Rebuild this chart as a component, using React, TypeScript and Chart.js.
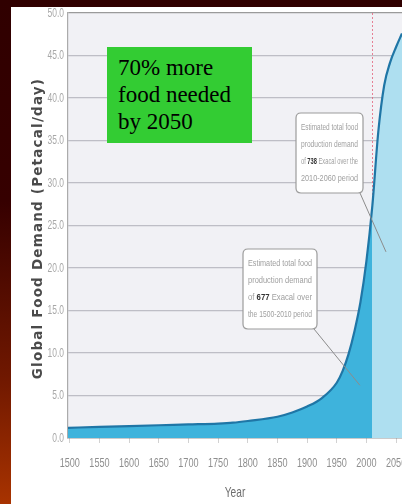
import { useEffect, useRef } from "react";
import { Chart, registerables } from "chart.js";

Chart.register(...registerables);

// Global food demand curve, Petacal/day
const years = [1497, 1550, 1600, 1650, 1700, 1750, 1775, 1800, 1850, 1875, 1900, 1925, 1950, 1960, 1970, 1980, 1990, 2000, 2010, 2020, 2030, 2040, 2050, 2060];
const demand = [1.2, 1.3, 1.4, 1.5, 1.6, 1.7, 1.8, 2.0, 2.5, 3.0, 3.7, 4.7, 6.5, 7.9, 9.9, 12.6, 16.0, 20.8, 27.3, 36.0, 41.5, 44.2, 46.0, 47.6];

const xTicks = [1500, 1550, 1600, 1650, 1700, 1750, 1800, 1850, 1900, 1950, 2000, 2050];
const yTicks = [0, 5, 10, 15, 20, 25, 30, 35, 40, 45, 50];
const splitYear = 2010;

const headline = ["70% more", "food needed", "by 2050"];
const yTitle = "Global Food Demand (Petacal/day)";
const xTitle = "Year";

type Seg = [string, boolean];
const futureNote: Seg[][] = [
  [["Estimated total food", false]],
  [["production demand", false]],
  [["of ", false], ["738", true], [" Exacal over the", false]],
  [["2010-2060 period", false]],
];
const pastNote: Seg[][] = [
  [["Estimated total food", false]],
  [["production demand", false]],
  [["of ", false], ["677", true], [" Exacal over", false]],
  [["the 1500-2010 period", false]],
];
// points (year, value) the note pointers lead to
const futureAnchor = [2033, 21.9];
const pastAnchor = [1989, 6.2];

const PAST_FILL = "#3eb3dc";
const FUTURE_FILL = "#aedff0";
const NARROW = '"Liberation Sans", Arial, sans-serif';

function roundRect(ctx: CanvasRenderingContext2D, x: number, y: number, w: number, h: number, r: number) {
  ctx.beginPath();
  ctx.moveTo(x + r, y);
  ctx.lineTo(x + w - r, y);
  ctx.quadraticCurveTo(x + w, y, x + w, y + r);
  ctx.lineTo(x + w, y + h - r);
  ctx.quadraticCurveTo(x + w, y + h, x + w - r, y + h);
  ctx.lineTo(x + r, y + h);
  ctx.quadraticCurveTo(x, y + h, x, y + h - r);
  ctx.lineTo(x, y + r);
  ctx.quadraticCurveTo(x, y, x + r, y);
  ctx.closePath();
}

// text squeezed horizontally, for the condensed axis lettering
function narrowText(
  ctx: CanvasRenderingContext2D,
  text: string,
  x: number,
  y: number,
  size: number,
  squeeze: number,
  align: CanvasTextAlign,
  color: string
) {
  ctx.save();
  ctx.translate(x, y);
  ctx.scale(squeeze, 1);
  ctx.font = `${size}px ${NARROW}`;
  ctx.textAlign = align;
  ctx.textBaseline = "middle";
  ctx.fillStyle = color;
  ctx.fillText(text, 0, 0);
  ctx.restore();
}

function drawNote(
  chart: any,
  box: { x: number; y: number; w: number; h: number },
  lines: Seg[][],
  anchor: number[]
) {
  const { ctx, scales } = chart;
  const tx = scales.x.getPixelForValue(anchor[0]);
  const ty = scales.y.getPixelForValue(anchor[1]);
  ctx.save();
  ctx.strokeStyle = "#8c8c8c";
  ctx.lineWidth = 1;
  ctx.beginPath();
  ctx.moveTo(box.x + box.w - 3, box.y + box.h);
  ctx.lineTo(tx, ty);
  ctx.stroke();

  roundRect(ctx, box.x, box.y, box.w, box.h, 5);
  ctx.fillStyle = "#ffffff";
  ctx.fill();
  ctx.strokeStyle = "#9c9c9c";
  ctx.lineWidth = 1.2;
  ctx.stroke();

  ctx.textBaseline = "middle";
  ctx.textAlign = "left";
  const maxW = box.w - 10;
  lines.forEach((segs, i) => {
    let total = 0;
    segs.forEach(([t, b]) => {
      ctx.font = `${b ? "bold " : ""}9px ${NARROW}`;
      total += ctx.measureText(t).width;
    });
    const s = Math.min(1, maxW / total);
    ctx.save();
    ctx.translate(box.x + 5, box.y + 15 + i * 17);
    ctx.scale(s, 1);
    let cx = 0;
    segs.forEach(([t, b]) => {
      ctx.font = `${b ? "bold " : ""}9px ${NARROW}`;
      ctx.fillStyle = b ? "#333333" : "#a0a0a0";
      ctx.fillText(t, cx, 0);
      cx += ctx.measureText(t).width;
    });
    ctx.restore();
  });
  ctx.restore();
}

const decor = {
  id: "decor",
  beforeDraw(chart: any) {
    const { ctx, chartArea: a } = chart;
    ctx.save();
    ctx.fillStyle = "#f1f1f5";
    ctx.fillRect(a.left, a.top, a.right - a.left, a.bottom - a.top);
    ctx.restore();
  },
  beforeDatasetsDraw(chart: any) {
    const { ctx, chartArea: a, scales } = chart;
    const px = Math.round(scales.x.getPixelForValue(splitYear)) + 0.5;
    ctx.save();
    ctx.strokeStyle = "rgba(225, 90, 115, 0.75)";
    ctx.lineWidth = 1;
    ctx.setLineDash([2, 2]);
    ctx.beginPath();
    ctx.moveTo(px, a.top);
    ctx.lineTo(px, a.bottom);
    ctx.stroke();
    ctx.restore();
  },
  afterDraw(chart: any) {
    const { ctx, chartArea: a, scales } = chart;
    drawNote(chart, { x: 285, y: 106, w: 67, h: 80 }, futureNote, futureAnchor);
    drawNote(chart, { x: 232, y: 242, w: 74, h: 80 }, pastNote, pastAnchor);

    // axis tick labels
    yTicks.forEach((v) => {
      narrowText(ctx, v.toFixed(1), scales.y.right - 4, scales.y.getPixelForValue(v), 13, 0.65, "right", "#a8a8a8");
    });
    xTicks.forEach((v) => {
      narrowText(ctx, String(v), scales.x.getPixelForValue(v), a.bottom + 25, 13, 0.7, "center", "#8e8e8e");
    });
    narrowText(ctx, xTitle, (a.left + a.right) / 2, a.bottom + 55, 15, 0.68, "center", "#6e6e6e");

    ctx.save();
    ctx.translate(27, (a.top + a.bottom) / 2 + 3);
    ctx.rotate(-Math.PI / 2);
    ctx.font = 'bold 13.5px "DejaVu Sans", sans-serif';
    (ctx as any).letterSpacing = "1.2px";
    ctx.textAlign = "center";
    ctx.textBaseline = "middle";
    ctx.fillStyle = "#4a4a4a";
    ctx.fillText(yTitle, 0, 0);
    ctx.restore();
  },
};

export default function App() {
  const ref = useRef<HTMLCanvasElement>(null);

  useEffect(() => {
    if (!ref.current) return;
    const chart = new Chart(ref.current, {
      type: "line",
      data: {
        datasets: [
          {
            data: years.map((y, i) => ({ x: y, y: demand[i] })),
            borderColor: "#1f76a6",
            borderWidth: 2.2,
            pointRadius: 0,
            cubicInterpolationMode: "monotone",
            fill: "origin",
            backgroundColor: (c: any) => {
              const ch = c.chart;
              const a = ch.chartArea;
              const xs = ch.scales && ch.scales.x;
              if (!a || !xs) return PAST_FILL;
              const p = xs.getPixelForValue(splitYear);
              const t = Math.min(1, Math.max(0, (p - a.left) / (a.right - a.left)));
              const g = ch.ctx.createLinearGradient(a.left, 0, a.right, 0);
              g.addColorStop(0, PAST_FILL);
              g.addColorStop(t, PAST_FILL);
              g.addColorStop(t, FUTURE_FILL);
              g.addColorStop(1, FUTURE_FILL);
              return g;
            },
          },
        ],
      },
      options: {
        responsive: false,
        animation: false,
        devicePixelRatio: 1,
        layout: { padding: { top: 6, right: 0, bottom: 0, left: 0 } },
        plugins: { legend: { display: false }, tooltip: { enabled: false } },
        scales: {
          x: {
            type: "linear",
            min: 1497,
            max: 2060,
            afterBuildTicks: (s: any) => {
              s.ticks = xTicks.map((v) => ({ value: v }));
            },
            afterFit: (s: any) => {
              s.height = 66;
              s.paddingLeft = 0;
              s.paddingRight = 0;
            },
            grid: {
              drawOnChartArea: false,
              drawTicks: true,
              tickLength: 5,
              color: "#d2d2d2",
            },
            border: { display: true, color: "#5a5a5a", width: 1.2 },
            ticks: { display: false },
          },
          y: {
            min: 0,
            max: 50,
            z: 1,
            afterBuildTicks: (s: any) => {
              s.ticks = yTicks.map((v) => ({ value: v }));
            },
            afterFit: (s: any) => {
              s.width = 57;
              s.paddingTop = 0;
              s.paddingBottom = 0;
            },
            grid: {
              drawTicks: false,
              color: (c: any) => (c.tick && c.tick.value === 50 ? "#9a9a9a" : "rgba(40, 40, 60, 0.25)"),
              lineWidth: 1.2,
            },
            border: { display: true, color: "#ababab", width: 1.2 },
            ticks: { display: false },
          },
        },
      },
      plugins: [decor],
    } as any);
    return () => chart.destroy();
  }, []);

  return (
    <div
      style={{
        position: "absolute",
        left: 0,
        top: 0,
        width: 402,
        height: 504,
        overflow: "hidden",
        background: "linear-gradient(to bottom, #300000 0%, #360000 40%, #701800 75%, #a83300 100%)",
      }}
    >
      <div
        style={{
          position: "absolute",
          left: 11,
          top: 7,
          width: 391,
          height: 497,
          background: "#ffffff",
        }}
      >
        <canvas ref={ref} width={391} height={497} style={{ display: "block" }} />
      </div>
      <div
        style={{
          position: "absolute",
          left: 107,
          top: 47,
          width: 145,
          height: 96,
          boxSizing: "border-box",
          padding: "7px 0 0 11px",
          background: "#33cc33",
          color: "#000000",
          fontFamily: '"Liberation Serif", "Times New Roman", serif',
          fontSize: 23,
          lineHeight: "27px",
        }}
      >
        {headline.map((t) => (
          <div key={t}>{t}</div>
        ))}
      </div>
    </div>
  );
}
